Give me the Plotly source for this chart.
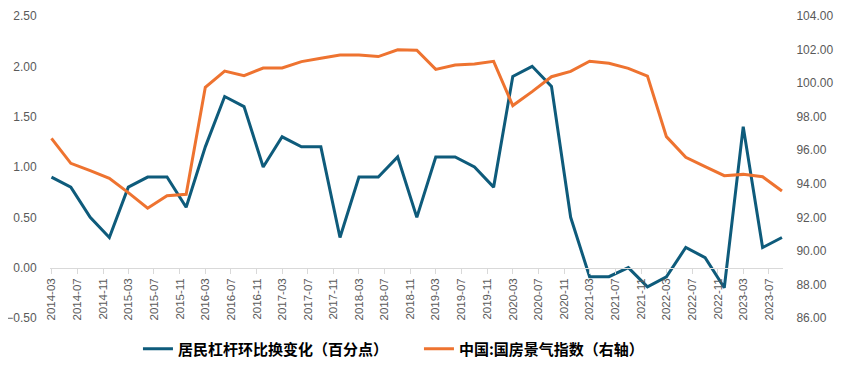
import plotly.graph_objects as go

dates = [f"{y}-{m:02d}-01" for y in range(2014, 2024) for m in (3, 6, 9, 12)][:39]

leverage = [0.9, 0.8, 0.5, 0.3,
            0.8, 0.9, 0.9, 0.6,
            1.2, 1.7, 1.6, 1.0,
            1.3, 1.2, 1.2, 0.3,
            0.9, 0.9, 1.1, 0.5,
            1.1, 1.1, 1.0, 0.8,
            1.9, 2.0, 1.8, 0.5,
            -0.09, -0.09, 0.0, -0.19,
            -0.09, 0.2, 0.1, -0.2,
            1.4, 0.2, 0.3]

climate = [96.71, 95.22, 94.78, 94.33,
           93.47, 92.54, 93.29, 93.37,
           99.75, 100.72, 100.44, 100.90,
           100.90, 101.28, 101.48, 101.68,
           101.68, 101.58, 101.99, 101.96,
           100.82, 101.08, 101.14, 101.30,
           98.66, 99.49, 100.38, 100.70,
           101.30, 101.18, 100.88, 100.42,
           96.81, 95.58, 95.02, 94.48,
           94.56, 94.42, 93.57]

name1 = "居民杠杆环比换变化（百分点）"
name2 = "中国:国房景气指数（右轴）"

blue = "#0E5B7B"
orange = "#EE7330"
grey = "#595959"

fig = go.Figure()
fig.add_trace(go.Scatter(x=dates, y=leverage, name=name1, mode="lines",
                         line=dict(color=blue, width=3)))
fig.add_trace(go.Scatter(x=dates, y=climate, name=name2, mode="lines",
                         line=dict(color=orange, width=3), yaxis="y2"))

fig.update_layout(
    width=843, height=372,
    margin=dict(l=42, r=68, t=8, b=62, autoexpand=False),
    plot_bgcolor="white", paper_bgcolor="white",
    font=dict(family="Liberation Sans, Arial, sans-serif", color=grey, size=12),
    showlegend=True,
    legend=dict(orientation="h", x=0.12, xanchor="left", y=-0.103, yanchor="middle",
                font=dict(family="Noto Sans CJK SC", size=15, color="#000000", weight="bold"),
                itemwidth=30, entrywidth=236, entrywidthmode="pixels",
                traceorder="normal"),
    xaxis=dict(type="date", range=["2014-02-22", "2023-09-06"],
               tick0="2014-03-01", dtick="M4", tickformat="%Y-%m",
               tickangle=-90, showgrid=False, showline=True, linecolor="#D9D9D9",
               linewidth=1, ticks="outside", ticklen=5, tickcolor="#D9D9D9",
               anchor="free", position=1/6, tickfont=dict(size=11.5, color=grey)),
    yaxis=dict(range=[-0.5, 2.5], dtick=0.5, tickformat=".2f", showgrid=False,
               zeroline=False, showline=False, tickfont=dict(size=12, color=grey),
               ticks="outside", ticklen=10, tickcolor="rgba(0,0,0,0)",
               domain=[0, 1]),
    yaxis2=dict(range=[86, 104], dtick=2, tickformat=".2f", showgrid=False,
                zeroline=False, showline=False, overlaying="y", side="right",
                ticks="outside", ticklen=10, tickcolor="rgba(0,0,0,0)",
                tickfont=dict(size=12, color=grey)),
)

fig.write_html("out.html")
